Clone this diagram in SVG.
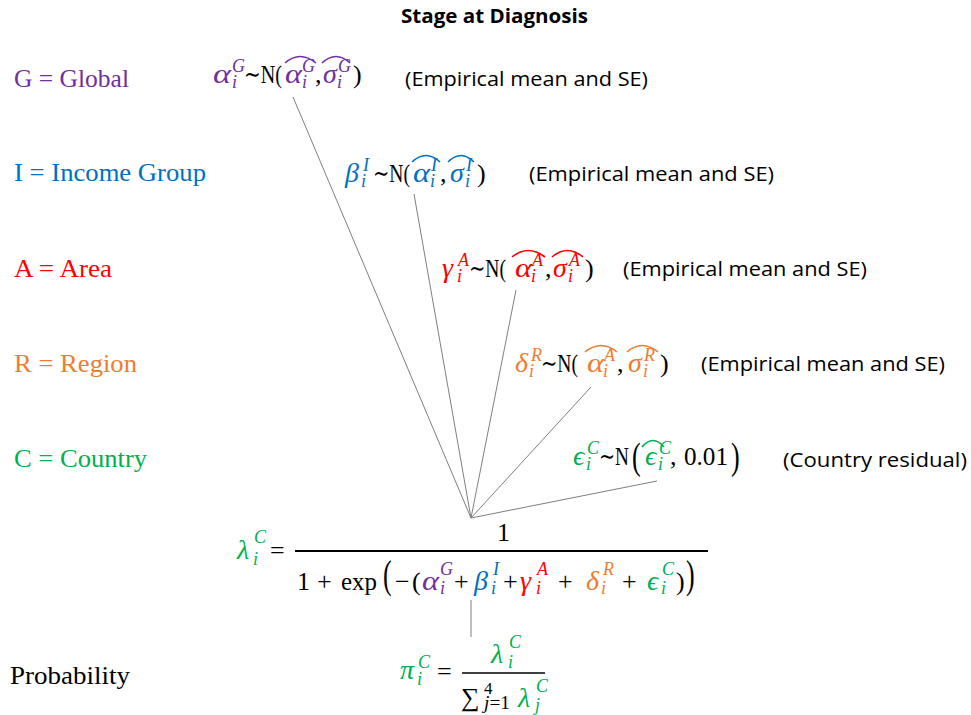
<svg xmlns="http://www.w3.org/2000/svg" width="971" height="715" viewBox="0 0 971 715">
<style>
.m{font-family:"Liberation Serif","DejaVu Serif",serif;font-size:26px;fill:#000}
.v{font-family:"Liberation Serif","DejaVu Serif",serif;font-style:italic;font-size:28px}
.s{font-family:"Liberation Serif","DejaVu Serif",serif;font-style:italic;font-size:18px}
.sn{font-family:"Liberation Serif","DejaVu Serif",serif;font-size:17px;fill:#000}
.lab{font-family:"Liberation Serif","DejaVu Serif",serif;font-size:26px}
.c{font-family:"Open Sans","Liberation Sans",sans-serif;font-size:20px;fill:#000}
.t{font-family:"Open Sans","Liberation Sans",sans-serif;font-size:20px;font-weight:bold;fill:#000}
.pu{fill:#7030A0}.bl{fill:#0070C0}.rd{fill:#FF0000}.or{fill:#ED7D31}.gr{fill:#00B050}
.hat{fill:none;stroke-width:1.6}
.hpu{stroke:#7030A0}.hbl{stroke:#0070C0}.hrd{stroke:#FF0000}.hor{stroke:#ED7D31}.hgr{stroke:#00B050}
.ln{stroke:#7f7f7f;stroke-width:1;fill:none}
</style>
<rect width="971" height="715" fill="#fff"/>
<text class="t" x="401" y="23" textLength="187" lengthAdjust="spacingAndGlyphs">Stage at Diagnosis</text>

<g id="legend">
<text class="lab pu" x="14" y="87" textLength="115" lengthAdjust="spacingAndGlyphs">G = Global</text>
<text class="lab bl" x="14" y="181" textLength="192" lengthAdjust="spacingAndGlyphs">I = Income Group</text>
<text class="lab rd" x="14" y="277" textLength="98" lengthAdjust="spacingAndGlyphs">A = Area</text>
<text class="lab or" x="14" y="372" textLength="123" lengthAdjust="spacingAndGlyphs">R = Region</text>
<text class="lab gr" x="14" y="467" textLength="133" lengthAdjust="spacingAndGlyphs">C = Country</text>
<text class="lab" x="10" y="684" textLength="120" lengthAdjust="spacingAndGlyphs" fill="#000">Probability</text>
</g>

<g id="connectors">
<line class="ln" x1="293" y1="97" x2="471" y2="518"/>
<line class="ln" x1="414" y1="194" x2="471" y2="518"/>
<line class="ln" x1="516" y1="290" x2="471" y2="518"/>
<line class="ln" x1="591" y1="387" x2="471" y2="518"/>
<line class="ln" x1="657" y1="481" x2="471" y2="518"/>
<line class="ln" x1="471" y1="600" x2="471" y2="637"/>
</g>

<g id="node-global">
<text class="v pu" x="213" y="83" textLength="18" lengthAdjust="spacingAndGlyphs">α</text>
<text class="s pu" x="232" y="72">G</text>
<text class="s pu" x="232" y="88">i</text>
<text class="m" x="244" y="83" textLength="38" lengthAdjust="spacingAndGlyphs">∼N(</text>
<text class="v pu" x="285" y="83" textLength="17" lengthAdjust="spacingAndGlyphs">α</text>
<text class="s pu" x="302" y="72">G</text>
<text class="s pu" x="302" y="88">i</text>
<path class="hat hpu" d="M285,63 Q300,50 316,63"/>
<text class="m" x="315" y="83">,</text>
<text class="v pu" x="323" y="83">σ</text>
<text class="s pu" x="338" y="72">G</text>
<text class="s pu" x="337" y="88">i</text>
<path class="hat hpu" d="M322,63 Q336,50 350,63"/>
<text class="m" x="353" y="83">)</text>
<text class="c" x="405" y="86" textLength="243" lengthAdjust="spacingAndGlyphs">(Empirical mean and SE)</text>
</g>

<g id="node-income">
<text class="v bl" x="345" y="182">β</text>
<text class="s bl" x="363" y="171">I</text>
<text class="s bl" x="361" y="187">i</text>
<text class="m" x="373" y="182" textLength="37" lengthAdjust="spacingAndGlyphs">∼N(</text>
<text class="v bl" x="413" y="182" textLength="17" lengthAdjust="spacingAndGlyphs">α</text>
<text class="s bl" x="431" y="171">I</text>
<text class="s bl" x="430" y="187">i</text>
<path class="hat hbl" d="M412,162 Q426,149 440,162"/>
<text class="m" x="440" y="182">,</text>
<text class="v bl" x="450" y="182">σ</text>
<text class="s bl" x="466" y="171">I</text>
<text class="s bl" x="465" y="187">i</text>
<path class="hat hbl" d="M448,162 Q461,149 474,162"/>
<text class="m" x="477" y="182">)</text>
<text class="c" x="529" y="181" textLength="245" lengthAdjust="spacingAndGlyphs">(Empirical mean and SE)</text>
</g>

<g id="node-area">
<text class="v rd" x="442" y="277">γ</text>
<text class="s rd" x="458" y="266">A</text>
<text class="s rd" x="457" y="282">i</text>
<text class="m" x="469" y="277" textLength="37" lengthAdjust="spacingAndGlyphs">∼N(</text>
<text class="v rd" x="515" y="277" textLength="17" lengthAdjust="spacingAndGlyphs">α</text>
<text class="s rd" x="532" y="266">A</text>
<text class="s rd" x="531" y="282">i</text>
<path class="hat hrd" d="M512,257 Q528,244 545,257"/>
<text class="m" x="545" y="277">,</text>
<text class="v rd" x="553" y="277">σ</text>
<text class="s rd" x="569" y="266">A</text>
<text class="s rd" x="568" y="282">i</text>
<path class="hat hrd" d="M552,257 Q567,244 583,257"/>
<text class="m" x="585" y="277">)</text>
<text class="c" x="623" y="276" textLength="244" lengthAdjust="spacingAndGlyphs">(Empirical mean and SE)</text>
</g>

<g id="node-region">
<text class="v or" x="515" y="372">δ</text>
<text class="s or" x="531" y="361">R</text>
<text class="s or" x="529" y="377">i</text>
<text class="m" x="541" y="372" textLength="37" lengthAdjust="spacingAndGlyphs">∼N(</text>
<text class="v or" x="587" y="372" textLength="17" lengthAdjust="spacingAndGlyphs">α</text>
<text class="s or" x="604" y="361">A</text>
<text class="s or" x="603" y="377">i</text>
<path class="hat hor" d="M585,352 Q601,339 617,352"/>
<text class="m" x="617" y="372">,</text>
<text class="v or" x="628" y="372">σ</text>
<text class="s or" x="644" y="361">R</text>
<text class="s or" x="643" y="377">i</text>
<path class="hat hor" d="M627,352 Q642,339 658,352"/>
<text class="m" x="660" y="372">)</text>
<text class="c" x="701" y="371" textLength="244" lengthAdjust="spacingAndGlyphs">(Empirical mean and SE)</text>
</g>

<g id="node-country">
<text class="v gr" x="573" y="465">ϵ</text>
<text class="s gr" x="587" y="454">C</text>
<text class="s gr" x="586" y="470">i</text>
<text class="m" x="599" y="465" textLength="30" lengthAdjust="spacingAndGlyphs">∼N</text>
<text class="m" transform="translate(632,469) scale(1,1.45)">(</text>
<text class="v gr" x="645" y="465">ϵ</text>
<text class="s gr" x="659" y="454">C</text>
<text class="s gr" x="658" y="470">i</text>
<path class="hat hgr" d="M642,447 Q653,434 664,447"/>
<text class="m" x="670" y="465">,</text>
<text class="m" x="684" y="465" textLength="44" lengthAdjust="spacingAndGlyphs">0.01</text>
<text class="m" transform="translate(731,469) scale(1,1.45)">)</text>
<text class="c" x="783" y="467" textLength="184" lengthAdjust="spacingAndGlyphs">(Country residual)</text>
</g>

<g id="node-lambda">
<text class="v gr" x="237" y="559">λ</text>
<text class="s gr" x="254" y="543">C</text>
<text class="s gr" x="253" y="565">i</text>
<text class="m" x="270" y="559">=</text>
<text class="m" x="497" y="541">1</text>
<line x1="295" y1="551" x2="708" y2="551" stroke="#000" stroke-width="1.8"/>
<text class="m" x="297" y="590">1</text>
<text class="m" x="317" y="590">+</text>
<text class="m" x="341" y="590" textLength="36" lengthAdjust="spacingAndGlyphs">exp</text>
<text class="m" transform="translate(383,588) scale(1,1.58)">(</text>
<text class="m" x="395" y="590">−</text>
<text class="m" x="412" y="590">(</text>
<text class="v pu" x="422" y="590" textLength="17" lengthAdjust="spacingAndGlyphs">α</text>
<text class="s pu" x="440" y="575">G</text>
<text class="s pu" x="440" y="594">i</text>
<text class="m" x="454" y="590">+</text>
<text class="v bl" x="474" y="590">β</text>
<text class="s bl" x="493" y="575">I</text>
<text class="s bl" x="491" y="594">i</text>
<text class="m" x="503" y="590">+</text>
<text class="v rd" x="520" y="590">γ</text>
<text class="s rd" x="537" y="575">A</text>
<text class="s rd" x="536" y="594">i</text>
<text class="m" x="558" y="590">+</text>
<text class="v or" x="586" y="590">δ</text>
<text class="s or" x="603" y="575">R</text>
<text class="s or" x="601" y="594">i</text>
<text class="m" x="622" y="590">+</text>
<text class="v gr" x="647" y="590">ϵ</text>
<text class="s gr" x="662" y="575">C</text>
<text class="s gr" x="661" y="594">i</text>
<text class="m" x="676" y="590">)</text>
<text class="m" transform="translate(686,588) scale(1,1.58)">)</text>
</g>

<g id="node-probability">
<text class="v gr" x="400" y="679">π</text>
<text class="s gr" x="418" y="668">C</text>
<text class="s gr" x="417" y="685">i</text>
<text class="m" x="437" y="680">=</text>
<line x1="462" y1="673" x2="545" y2="673" stroke="#000" stroke-width="1.5"/>
<text class="v gr" x="491" y="663">λ</text>
<text class="s gr" x="509" y="648">C</text>
<text class="s gr" x="508" y="668">i</text>
<text class="m" x="461" y="706" font-size="21">∑</text>
<text class="sn" x="484" y="694">4</text>
<text class="s" x="484" y="709" fill="#000" textLength="26" lengthAdjust="spacingAndGlyphs">j<tspan font-style="normal">=1</tspan></text>
<text class="v gr" x="518" y="707">λ</text>
<text class="s gr" x="536" y="692">C</text>
<text class="s gr" x="535" y="711">j</text>
</g>
</svg>
